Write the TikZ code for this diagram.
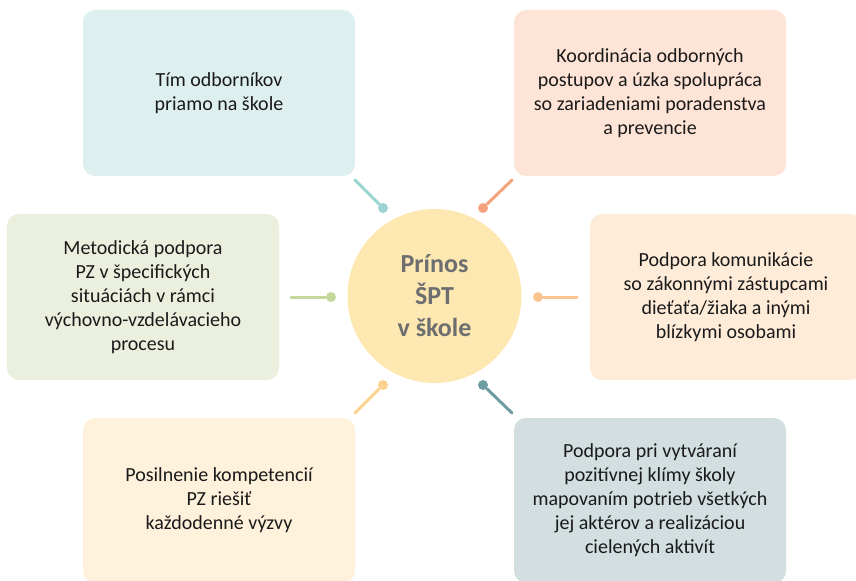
\documentclass[tikz,border=0pt]{standalone}
\usepackage{fontspec}
\setmainfont{Carlito}
\definecolor{txt}{HTML}{1A1A1A}
\definecolor{hubfill}{HTML}{FEE8B2}
\definecolor{hubtxt}{HTML}{6D6E70}
\definecolor{timfill}{HTML}{DDEFEE}
\definecolor{timc}{HTML}{9CD3D3}
\definecolor{koofill}{HTML}{FDE4D6}
\definecolor{kooc}{HTML}{F5A37F}
\definecolor{metfill}{HTML}{EBF0DE}
\definecolor{metc}{HTML}{C3D99C}
\definecolor{komfill}{HTML}{FEECD9}
\definecolor{komc}{HTML}{FBC590}
\definecolor{posfill}{HTML}{FEF2DC}
\definecolor{posc}{HTML}{FAD38E}
\definecolor{klifill}{HTML}{D2DEE0}
\definecolor{klic}{HTML}{6E9CA1}
\begin{document}
\begin{tikzpicture}[x=0.75pt,y=-0.75pt,line cap=round,font=\fontsize{15}{18}\selectfont,
  box/.style={rounded corners=9pt,minimum width=204pt,minimum height=124.5pt,align=center,text=txt},
  dot/.style={circle,inner sep=0pt,minimum size=7.5pt},
  lnk/.style={line width=2.25pt}]
\useasboundingbox (0,0) rectangle (856,581);
\node[circle,fill=hubfill,minimum size=130.5pt,text=hubtxt,align=center,font=\bfseries\fontsize{19.5}{24}\selectfont] (hub) at (434.5,296) {Prínos\\ŠPT\\v škole};
% boxes
\node[box,fill=timfill] (tim) at (219,93) {Tím odborníkov\\priamo na škole};
\node[box,fill=koofill] (koo) at (650,93) {Koordinácia odborných\\postupov a úzka spolupráca\\so zariadeniami poradenstva\\a prevencie};
\node[box,fill=metfill] (met) at (143,297) {Metodická podpora\\PZ v špecifických\\situáciách v rámci\\výchovno-vzdelávacieho\\procesu};
\node[box,fill=komfill] (kom) at (726,297) {Podpora komunikácie\\so zákonnými zástupcami\\dieťaťa/žiaka a inými\\blízkymi osobami};
\node[box,fill=posfill,minimum height=123.75pt] (pos) at (219,500.5) {Posilnenie kompetencií\\PZ riešiť\\každodenné výzvy};
\node[box,fill=klifill,minimum height=123.75pt] (kli) at (650,500.5) {Podpora pri vytváraní\\pozitívnej klímy školy\\mapovaním potrieb všetkých\\jej aktérov a realizáciou\\cielených aktivít};
% spokes
\node[dot,fill=timc] (dtim) at (383,208) {};
\node[dot,fill=kooc] (dkoo) at (483,208) {};
\node[dot,fill=metc] (dmet) at (331,297) {};
\node[dot,fill=komc] (dkom) at (538,297) {};
\node[dot,fill=posc] (dpos) at (383,385) {};
\node[dot,fill=klic] (dkli) at (483,385) {};
\coordinate (etim) at (355,180);
\coordinate (ekoo) at (512,180);
\coordinate (emet) at (291,297);
\coordinate (ekom) at (577,297);
\coordinate (epos) at (355,413);
\coordinate (ekli) at (512,413);
\draw[lnk,timc] (dtim)--(etim);
\draw[lnk,kooc] (dkoo)--(ekoo);
\draw[lnk,metc] (dmet)--(emet);
\draw[lnk,komc] (dkom)--(ekom);
\draw[lnk,posc] (dpos)--(epos);
\draw[lnk,klic] (dkli)--(ekli);
\end{tikzpicture}
\end{document}
